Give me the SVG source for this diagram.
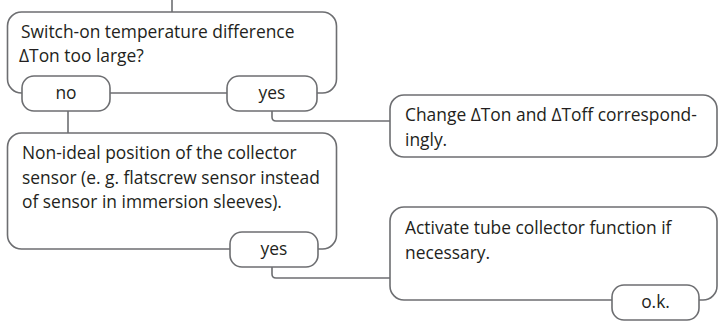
<svg xmlns="http://www.w3.org/2000/svg" width="723" height="323" viewBox="0 0 723 323">
<style>
.box{fill:#fff;stroke:#6d6e71;stroke-width:1.6}
.ln{fill:none;stroke:#6d6e71;stroke-width:1.6}
text{font-family:"Open Sans","Noto Sans",sans-serif;font-size:17.4px;fill:#231f20}
.c{text-anchor:middle}
</style>
<rect width="723" height="323" fill="#fff"/>
<g id="connectors">
<path class="ln" d="M172,0V12"/>
<path class="ln" d="M68,111V133"/>
<path class="ln" d="M272,111V117Q272,121 276,121H390"/>
<path class="ln" d="M272,267V274Q272,278 276,278H390"/>
</g>
<g id="q1">
<rect class="box" x="7.5" y="12" width="329" height="81" rx="14"/>
<text x="21" y="37.5">Switch-on temperature difference</text>
<text x="19" y="62">ΔTon too large?</text>
</g>
<g id="q1-no">
<rect class="box" x="22" y="76" width="88" height="35" rx="12"/>
<text class="c" x="66" y="99">no</text>
</g>
<g id="q1-yes">
<rect class="box" x="227" y="76" width="90" height="35" rx="12"/>
<text class="c" x="272" y="99">yes</text>
</g>
<g id="a1">
<rect class="box" x="390" y="95" width="327" height="62" rx="14"/>
<text x="405" y="121">Change ΔTon and ΔToff correspond-</text>
<text x="405" y="146">ingly.</text>
</g>
<g id="q2">
<rect class="box" x="7.5" y="133" width="329" height="116" rx="14"/>
<text x="22" y="158.5">Non-ideal position of the collector</text>
<text x="22" y="183.5">sensor (e. g. flatscrew sensor instead</text>
<text x="22" y="208">of sensor in immersion sleeves).</text>
</g>
<g id="q2-yes">
<rect class="box" x="230" y="232" width="88" height="35" rx="12"/>
<text class="c" x="274" y="255">yes</text>
</g>
<g id="a2">
<rect class="box" x="390" y="207" width="327" height="93" rx="14"/>
<text x="405" y="234">Activate tube collector function if</text>
<text x="405" y="259">necessary.</text>
</g>
<g id="a2-ok">
<rect class="box" x="612" y="285" width="87" height="35" rx="12"/>
<text class="c" x="655.5" y="308">o.k.</text>
</g>
</svg>
